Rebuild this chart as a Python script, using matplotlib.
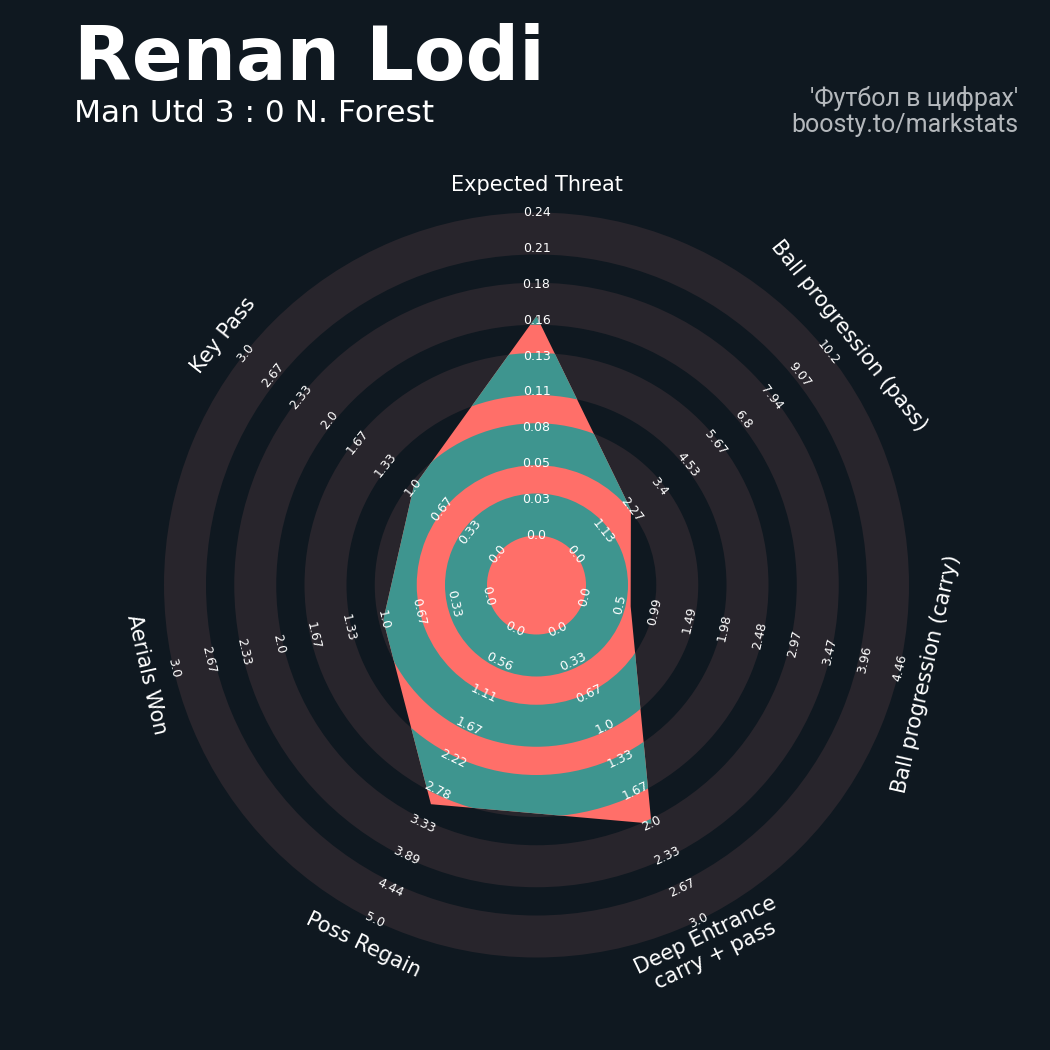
import numpy as np
import matplotlib.pyplot as plt
from matplotlib.patches import Wedge, Polygon

# radar data
params = ['Expected Threat', 'Ball progression (pass)', 'Ball progression (carry)',
          'Deep Entrance\ncarry + pass', 'Poss Regain', 'Aerials Won', 'Key Pass']
values = [0.161, 2.25, 0.65, 2.0, 3.0, 1.0, 1.0]
low = [0, 0, 0, 0, 0, 0, 0]
high = [0.237, 10.203, 4.46, 3.0, 5.0, 3.0, 3.0]

title = 'Renan Lodi'
subtitle = 'Man Utd 3 : 0 N. Forest'
credit = "'Футбол в цифрах'\nboosty.to/markstats"

# colours
bg = '#0f1820'
ring_grey = '#28252c'
red = '#ff6f69'
teal = '#3e958f'

# geometry (1 data unit = 1 pixel)
cx, cy = 536.5, 585
r0 = 49.5          # center circle
ring_w = 42
gap = 28.25
n_rings = 5
R = r0 + n_rings * ring_w + (n_rings - 1) * gap
label_r = 400
n_labels = 10

fig = plt.figure(figsize=(10.5, 10.5), dpi=100)
fig.patch.set_facecolor(bg)
ax = fig.add_axes([0, 0, 1, 1])
ax.set_facecolor(bg)
ax.set_xlim(-cx, 1050 - cx)
ax.set_ylim(-(1050 - cy), cy)
ax.axis('off')

# background rings
ring_inner = [r0 + i * (ring_w + gap) for i in range(n_rings)]
for ri in ring_inner:
    ax.add_patch(Wedge((0, 0), ri + ring_w, 0, 360, width=ring_w, facecolor=ring_grey,
                       edgecolor='none', zorder=1))

# radar polygon
n = len(params)
theta = np.arange(n) * 2 * np.pi / n   # clockwise from top
frac = (np.array(values) - np.array(low)) / (np.array(high) - np.array(low))
rad = r0 + frac * (R - r0)
xy = np.column_stack([rad * np.sin(theta), rad * np.cos(theta)])
poly = Polygon(xy, closed=True, facecolor=red, edgecolor='none', zorder=2)
ax.add_patch(poly)

# rings inside the polygon
for ri in ring_inner:
    w = Wedge((0, 0), ri + ring_w, 0, 360, width=ring_w, facecolor=teal,
              edgecolor='none', zorder=3)
    ax.add_patch(w)
    w.set_clip_path(poly)


def tangent_rot(t):
    rot = -np.degrees(t)
    rot = (rot + 90) % 180 - 90
    return rot


# range labels
lab_rad = np.linspace(r0, R, n_labels)
for i in range(n):
    rot = tangent_rot(theta[i])
    vals = np.linspace(low[i], high[i], n_labels)
    for r, v in zip(lab_rad, vals):
        ax.text(r * np.sin(theta[i]), r * np.cos(theta[i]), str(round(v, 2)),
                rotation=rot, rotation_mode='anchor', ha='center', va='center',
                fontsize=9, color='white', zorder=5)

# parameter labels
for i in range(n):
    rot = tangent_rot(theta[i])
    ax.text(label_r * np.sin(theta[i]), label_r * np.cos(theta[i]), params[i],
            rotation=rot, rotation_mode='anchor', ha='center', va='center',
            fontsize=15, color='white', zorder=5, linespacing=1.1)

# titles
fig.text(74 / 1050, 1 - 80 / 1050, title, fontsize=54, fontweight='bold',
         color='white', ha='left', va='baseline')
fig.text(74 / 1050, 1 - 122 / 1050, subtitle, fontsize=22.5,
         color='white', ha='left', va='baseline')
fig.text(1018 / 1050, 1 - 132 / 1050, credit, fontsize=18, family='Roboto',
         color='#b4b8bc', ha='right', va='baseline', linespacing=1.1)

fig.savefig('out.png', dpi=100, facecolor=bg)
